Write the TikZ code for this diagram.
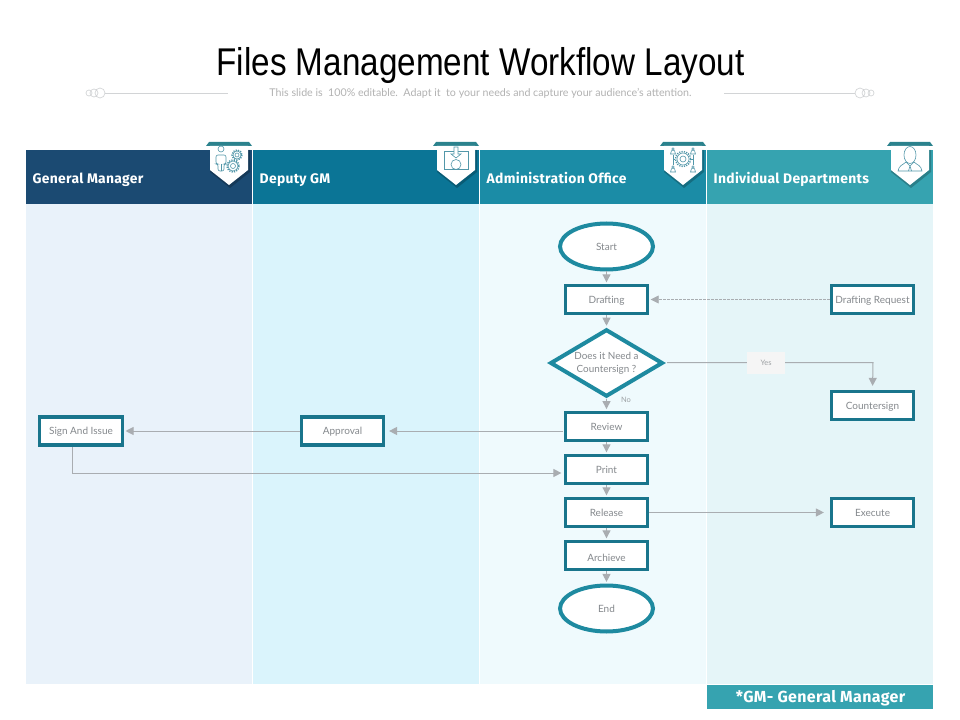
\documentclass[tikz,border=0pt]{standalone}
\usepackage{fontspec}
\usetikzlibrary{arrows.meta,shapes.geometric}
\setmainfont{Lato}
\newfontfamily\titlefont[FakeStretch=0.86]{Liberation Sans}
\newfontfamily\headfont[LetterSpace=2.2]{Fira Sans}
\definecolor{gmblue}{HTML}{1B4A72}
\definecolor{deputyblue}{HTML}{0B7596}
\definecolor{adminblue}{HTML}{1B8CA6}
\definecolor{deptteal}{HTML}{36A3B0}
\definecolor{gmlane}{HTML}{E9F2FA}
\definecolor{deputylane}{HTML}{DAF4FC}
\definecolor{adminlane}{HTML}{EFFAFD}
\definecolor{deptlane}{HTML}{E5F5F8}
\definecolor{boxteal}{HTML}{19758C}
\definecolor{ovalteal}{HTML}{1E8AA0}
\definecolor{linegray}{HTML}{A9ADB1}
\definecolor{labelgray}{HTML}{85898D}
\definecolor{ruleGray}{HTML}{D2D4D6}
\tikzset{
    flowbox/.style={draw=boxteal,line width=2.4pt,fill=white,minimum width=61.5pt,minimum height=21pt,inner sep=0pt,text height=6.2pt,text depth=.6pt,text=labelgray,font=\fontsize{7.5}{9}\selectfont},
    flowoval/.style={ellipse,draw=ovalteal,line width=3pt,fill=white,minimum width=69.7pt,minimum height=34.5pt,inner sep=0pt,text=labelgray,font=\fontsize{7.5}{9}\selectfont},
    flowdiamond/.style={diamond,draw=ovalteal,line width=3pt,fill=white,minimum width=84.5pt,minimum height=50.5pt,inner sep=0pt,aspect=1.7,text=labelgray,align=center,font=\fontsize{7.4}{9.9}\selectfont},
    flowline/.style={draw=linegray,line width=.75pt,-{Triangle[length=6pt,width=6pt]},shorten >=1.2pt},
    headlabel/.style={anchor=west,text=white,text height=8pt,text depth=.2pt,font=\headfont\bfseries\fontsize{10.4}{12}\selectfont},
    iconline/.style={draw=boxteal!75,line width=.45pt,fill=none},
    geartooth/.style={draw=boxteal!75,line width=1.1pt,dash pattern=on .9pt off .9pt},
}
\begin{document}
\begin{tikzpicture}[x=.75pt,y=-.75pt]
        \useasboundingbox (0,0) rectangle (960,720);
        \fill[white] (0,0) rectangle (960,720);
        % title
        \node (title) at (480.5,66) {\titlefont\fontsize{29}{32}\selectfont Files Management Workflow Layout};
        \node[text=black!30,font=\fontsize{8}{9}\selectfont] (subtitle) at (480.5,93.5) {This slide is\ \ 100\% editable.\ \ Adapt it\ \ to your needs and capture your audience's attention.};
        \draw[ruleGray,line width=.5pt] (105,93)--(228,93);
        \draw[ruleGray,line width=.5pt] (724,93)--(855,93);
        \draw[ruleGray,line width=.5pt] (100,93) circle (5) (94,93) circle (4) (89,93) circle (3);
        \draw[ruleGray,line width=.5pt] (860,93) circle (5) (866,93) circle (4) (871,93) circle (3);
        % lanes
        \fill[gmlane] (26,204) rectangle (252,684);
        \fill[deputylane] (253,204) rectangle (479,684);
        \fill[adminlane] (480,204) rectangle (706,684);
        \fill[deptlane] (707,204) rectangle (933,684);
        \fill[gmblue] (26,150) rectangle (252,204);
        \fill[deputyblue] (253,150) rectangle (479,204);
        \fill[adminblue] (480,150) rectangle (706,204);
        \fill[deptteal] (707,150) rectangle (933,204);
        \node[headlabel] (gmhead) at (28,178) {General Manager};
        \node[headlabel] (deputyhead) at (255,178) {Deputy GM};
        \node[headlabel] (adminhead) at (482,178) {Administration Office};
        \node[headlabel] (depthead) at (709,178) {Individual Departments};
        \fill[deptteal] (707,685) rectangle (933,709);
        \node[text=white,font=\headfont\bfseries\fontsize{12}{14}\selectfont] (gmnote) at (820.5,698) {*GM- General Manager};
        % tabs
        \foreach \cx in {229,456,683,910}{
            \fill[black,opacity=.22] (\cx-19,150)--(\cx+21,150)--(\cx+21,172)--(\cx+1,188)--(\cx-19,172)--cycle;
            \fill[deptteal!80!black] (\cx-23,146)--(\cx-20,142)--(\cx+20,142)--(\cx+23,146)--cycle;
            \fill[white] (\cx-19,146)--(\cx+19,146)--(\cx+19,170)--(\cx,185)--(\cx-19,170)--cycle;
        }
        % icons
        \draw[iconline] (221,149) circle (3);
        \draw[iconline,rounded corners=1.5pt] (218,171)--(218,164)--(216,164)--(216,155)--(226,155)--(226,164)--(224,164)--(224,171)--cycle;
        \draw[iconline] (221,164)--(221,171);
        \draw[iconline] (237,155) circle (2) (237,155) circle (4);
        \draw[geartooth] (237,155) circle (5);
        \draw[iconline] (233,166) circle (2.5) (233,166) circle (5);
        \draw[geartooth] (233,166) circle (6);
        \draw[iconline] (444,151) rectangle (468,169);
        \draw[iconline,fill=white] (454,147)--(458,147)--(458,154)--(461,154)--(456,158)--(451,154)--(454,154)--cycle;
        \draw[iconline] (456,164.5) circle (5);
        \draw[iconline] (683,159) circle (3) (683,159) circle (6);
        \draw[geartooth] (683,159) circle (7.5);
        \foreach \ix/\iy in {673/149,693/149,673/167,693/167}{
            \draw[iconline] (\ix,\iy) circle (1.3);
            \draw[iconline] (\ix-2.5,\iy+5)--(\ix-1.5,\iy+1.7)--(\ix+1.5,\iy+1.7)--(\ix+2.5,\iy+5)--cycle;
        }
        \draw[iconline] (673,155)--(673,165) (693,155)--(693,165) (673,159)--(675,159) (691,159)--(693,159);
        \draw[iconline] (910,155) ellipse (6 and 8.5);
        \draw[iconline] (898,171) .. controls (899,165) and (903,165) .. (906,162) -- (910,166) -- (914,162) .. controls (917,165) and (921,165) .. (922,171) -- cycle;
        \draw[iconline] (910,166)--(908.5,171) (910,166)--(911.5,171);
        % flow nodes
        \node[flowoval] (start) at (606.5,246.5) {Start};
        \node[flowbox] (drafting) at (606.5,299.5) {Drafting};
        \node[flowbox] (draftreq) at (872.5,299.5) {Drafting Request};
        \node[flowdiamond] (decide) at (606.5,363) {Does it Need a\\Countersign ?};
        \node[flowbox] (countersign) at (872.5,405.5) {Countersign};
        \node[flowbox] (review) at (606.5,426.3) {Review};
        \node[flowbox] (print) at (606.5,469.5) {Print};
        \node[flowbox] (release) at (606.5,512.5) {Release};
        \node[flowbox] (execute) at (872.5,512.5) {Execute};
        \node[flowbox] (archieve) at (606.5,555.5) {\raisebox{-1.5pt}{Archieve}};
        \node[flowoval] (finish) at (606.5,608.5) {End};
        \node[flowbox] (approval) at (342.5,431) {Approval};
        \node[flowbox,minimum width=62pt] (sign) at (81,431) {Sign And Issue};
        \node[text=labelgray!80,font=\fontsize{5.6}{6}\selectfont] (nolabel) at (626,400) {No};
        % connector ends off centre
        \coordinate (reviewout) at (563,431);
        \coordinate (printin) at (563,473);
        \coordinate (signout) at (72.5,447);
        \coordinate (decideout) at (667,362.5);
        \coordinate (yescorner) at (873,362.5);
        % connectors
        \draw[flowline] (start.south)--(drafting.north);
        \draw[flowline] (drafting.south)--(decide.north);
        \draw[flowline] (decide.south)--(review.north);
        \draw[flowline] (review.south)--(print.north);
        \draw[flowline] (print.south)--(release.north);
        \draw[flowline] (release.south)--(archieve.north);
        \draw[flowline] (archieve.south)--(finish.north);
        \draw[flowline,dash pattern=on 2pt off 1pt,line width=.6pt] (draftreq.west)--(drafting.east);
        \draw[flowline,shorten >=3pt] (decideout)--(yescorner)--(countersign.north);
        \draw[flowline,shorten >=3pt] (reviewout)--(approval.east);
        \draw[flowline] (approval.west)--(sign.east);
        \draw[flowline] (signout)|-(printin);
        \draw[flowline,shorten >=4.5pt] (release.east)--(execute.west);
        \node[fill=black!4,text=labelgray!80,minimum width=28pt,minimum height=16pt,inner sep=0pt,font=\fontsize{5.6}{6}\selectfont] (yeslabel) at (766,363) {Yes};
\end{tikzpicture}
\end{document}
